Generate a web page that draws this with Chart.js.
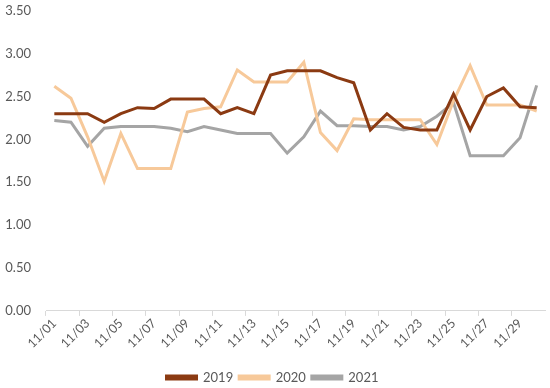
<!DOCTYPE html>
<html>
<head>
<meta charset="utf-8">
<script src="https://cdn.jsdelivr.net/npm/chart.js@4"></script>
<style>
  html, body { margin: 0; padding: 0; background: #fff; }
  #wrap { width: 550px; height: 388px; }
</style>
</head>
<body>
<div id="wrap"><canvas id="myChart" width="550" height="388"></canvas></div>
<script>
   //    data
   const days = [];
   for (let d = 1; d <= 30; d++) days.push('11/' + String(d).padStart(2, '0'));

   const y2019 = [2.30, 2.30, 2.30, 2.20, 2.30, 2.37, 2.36, 2.47, 2.47, 2.47,
                  2.30, 2.37, 2.30, 2.75, 2.80, 2.80, 2.80, 2.72, 2.66, 2.11,
                  2.30, 2.14, 2.11, 2.11, 2.53, 2.11, 2.50, 2.60, 2.38, 2.37];
   const y2020 = [2.62, 2.48, 2.03, 1.51, 2.07, 1.66, 1.66, 1.66, 2.32, 2.36,
                  2.38, 2.81, 2.67, 2.67, 2.67, 2.90, 2.08, 1.87, 2.24, 2.23,
                  2.23, 2.23, 2.23, 1.94, 2.45, 2.86, 2.40, 2.40, 2.40, 2.33];
   const y2021 = [2.22, 2.20, 1.92, 2.13, 2.15, 2.15, 2.15, 2.13, 2.09, 2.15,
                  2.11, 2.07, 2.07, 2.07, 1.84, 2.03, 2.33, 2.16, 2.16, 2.15,
                  2.15, 2.11, 2.15, 2.27, 2.43, 1.81, 1.81, 1.81, 2.02, 2.63];
   const yTicks = [0, 0.5, 1, 1.5, 2, 2.5, 3, 3.5];

   const textColor = '#595959';
   const fontFamily = 'Lato, "Open Sans", sans-serif';

   function line(label, data, color) {
       return {
           label: label,
           data: data,
           borderColor: color,
           backgroundColor: color,
           borderWidth: 3,
           pointRadius: 0,
           tension: 0,
           fill: false
       };
   }

   const config = {
       type: 'line',
       data: {
           labels: days,
           datasets: [
               line('2019', y2019, '#8B3A12'),
               line('2020', y2020, '#F7C99A'),
               line('2021', y2021, '#A5A5A5')
           ]
       },
       options: {
           responsive: false,
           animation: false,
           layout: {
               padding: { top: 0, right: 5, left: 0, bottom: -6 }
           },
           plugins: {
               legend: {
                   position: 'bottom',
                   labels: {
                       boxWidth: 30,
                       boxHeight: 3,
                       padding: 6,
                       color: textColor,
                       font: { family: fontFamily, size: 13 }
                   }
               },
               tooltip: { enabled: false }
           },
           scales: {
               x: {
                   offset: true,
                   afterFit: scale => { scale.height += 14; },
                   grid: {
                       offset: true,
                       drawOnChartArea: false,
                       drawTicks: true,
                       tickLength: 5,
                       tickColor: ctx => (ctx.index % 2 === 0 ? '#D9D9D9' : 'rgba(0,0,0,0)')
                   },
                   border: { color: '#D9D9D9', width: 1 },
                   ticks: {
                       autoSkip: false,
                       maxRotation: 45,
                       minRotation: 45,
                       padding: 0,
                       color: textColor,
                       font: { family: fontFamily, size: 12.5 },
                       callback: function (value, index) {
                           return index % 2 === 0 ? this.getLabelForValue(value) : '';
                       }
                   }
               },
               y: {
                   min: 0,
                   max: 3.5,
                   afterFit: scale => { scale.width = 46; },
                   afterBuildTicks: scale => { scale.ticks = yTicks.map(v => ({ value: v })); },
                   grid: { display: false, drawTicks: true, tickLength: 12 },
                   border: { display: false },
                   ticks: {
                       padding: 3,
                       color: textColor,
                       font: { family: fontFamily, size: 13 },
                       callback: v => v.toFixed(2)
                   }
               }
           }
       }
   };

   new Chart(document.getElementById('myChart'), config);
</script>
</body>
</html>
